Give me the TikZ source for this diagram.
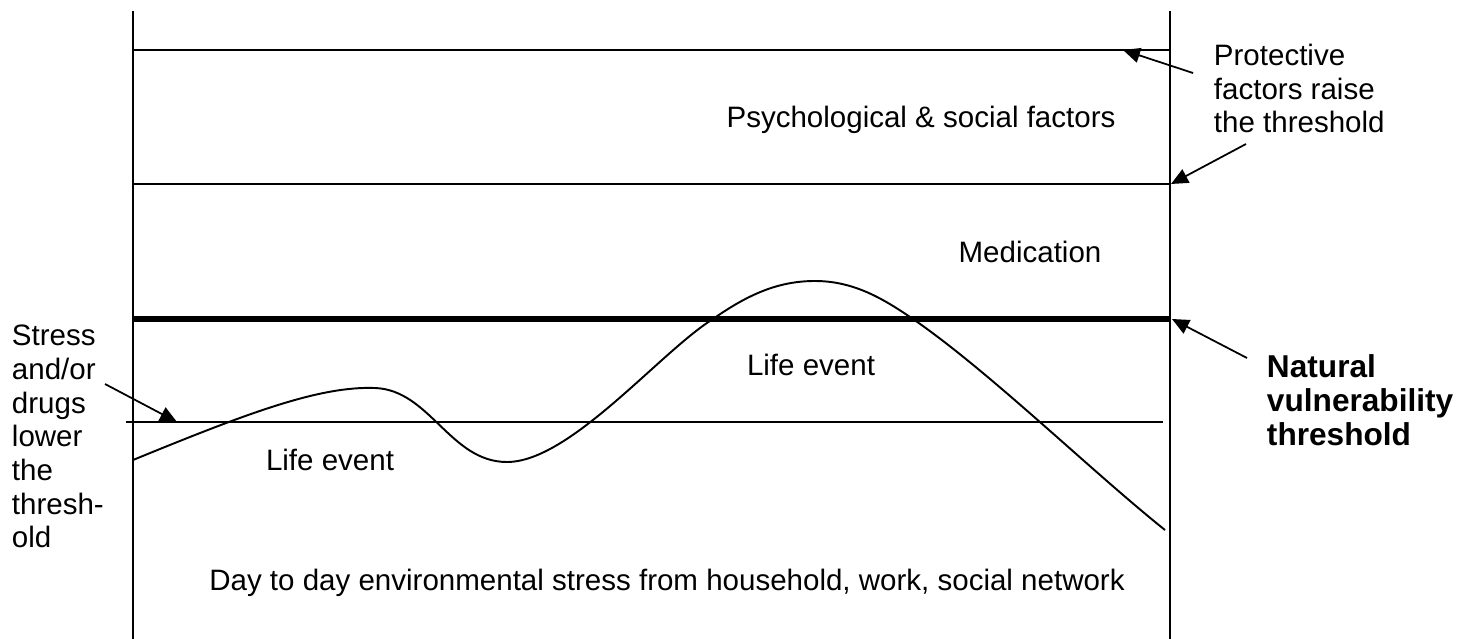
\documentclass[tikz,border=0pt]{standalone}
\usepackage{fontspec}
\setmainfont{Liberation Sans}
\usetikzlibrary{arrows.meta}
% one pixel of the layout grid = 0.02cm, y runs downwards
\newcommand{\levelline}[4]{%
  \draw[#4] (#1,#3) -- (#2,#3);
}

\begin{document}
\begin{tikzpicture}[x=0.02cm,y=-0.02cm,line width=1.1pt,
  every node/.style={font=\fontsize{16.8}{19.2}\selectfont,inner sep=0pt},
  pointer/.style={-{Triangle[length=0.34cm,width=0.3cm]},line width=1pt}]
  \useasboundingbox (0,0) rectangle (1471,639);
  % frame and levels
  \draw (133,11) -- (133,639);
  \draw (1170,11) -- (1170,639);
  \levelline{133}{1170}{50}{}
  \levelline{133}{1170}{184}{}
  \levelline{133}{1170}{319}{line width=2.9pt}
  \levelline{126}{1163}{422}{}
  % stress curve
  \draw (133,460) .. controls (250,412) and (320,386) .. (375,388)
    .. controls (430,390) and (450,462) .. (507,462)
    .. controls (570,462) and (660,352) .. (713,319)
    .. controls (750,293) and (780,281) .. (815,281)
    .. controls (855,281) and (885,300) .. (913,319)
    .. controls (990,372) and (1090,470) .. (1165,530);
  % labels inside
  \node[anchor=base] (psy) at (921,127) {Psychological \& social factors};
  \node[anchor=base] (med) at (1030,262) {Medication};
  \node[anchor=base] (ev1) at (811,375) {Life event};
  \node[anchor=base] (ev2) at (330,470) {Life event};
  \node[anchor=base] (daily) at (667,590)
    {Day to day environmental stress from household, work, social network};
  % side notes
  \node[anchor=north west,align=left] (prot) at (1213,43)
    {Protective\\factors raise\\the threshold};
  \node[anchor=north west,align=left,font=\fontsize{18}{19.2}\selectfont\bfseries]
    (nat) at (1266,354) {Natural\\vulnerability\\threshold};
  \node[anchor=north west,align=left] (drug) at (11,324)
    {Stress\\and/or\\drugs\\lower\\the\\thresh-\\old};
  \coordinate (p1) at (1193,73);
  \coordinate (p2) at (1246,144);
  \coordinate (n1) at (1247,358);
  \coordinate (s1) at (105,384);
  \coordinate (t1) at (1123,50);
  \coordinate (t2) at (1171,184);
  \coordinate (t3) at (1172,319);
  \coordinate (t4) at (177,422);
  \draw[pointer] (p1) -- (t1);
  \draw[pointer] (p2) -- (t2);
  \draw[pointer] (n1) -- (t3);
  \draw[pointer] (s1) -- (t4);
\end{tikzpicture}
\end{document}
